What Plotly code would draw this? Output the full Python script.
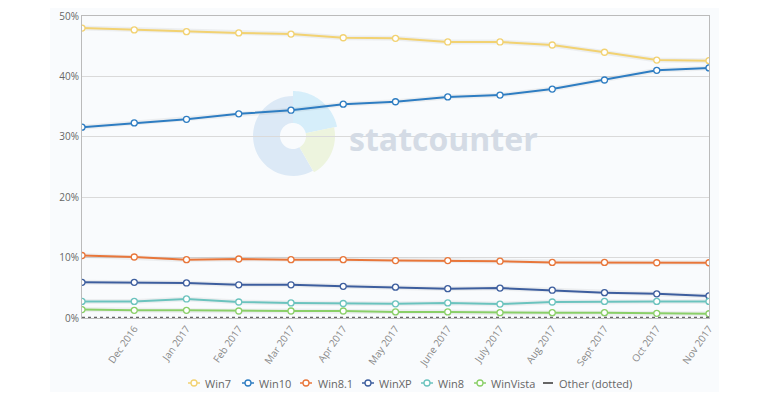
import plotly.graph_objects as go
import math

months = ["Nov 2016", "Dec 2016", "Jan 2017", "Feb 2017", "Mar 2017", "Apr 2017", "May 2017",
          "June 2017", "July 2017", "Aug 2017", "Sept 2017", "Oct 2017", "Nov 2017"]
tick_labels = months[1:]

win7 = [48.0, 47.7, 47.4, 47.2, 47.0, 46.4, 46.3, 45.7, 45.7, 45.2, 44.0, 42.7, 42.6]
win10 = [31.6, 32.3, 32.9, 33.8, 34.4, 35.4, 35.8, 36.6, 36.9, 37.9, 39.4, 41.0, 41.4]
win81 = [10.35, 10.1, 9.65, 9.77, 9.65, 9.65, 9.5, 9.5, 9.4, 9.2, 9.2, 9.15, 9.15]
winxp = [5.9, 5.9, 5.8, 5.5, 5.5, 5.25, 5.1, 4.85, 4.95, 4.6, 4.2, 4.0, 3.65]
win8 = [2.75, 2.75, 3.15, 2.65, 2.5, 2.4, 2.35, 2.5, 2.3, 2.65, 2.75, 2.75, 2.75]
winvista = [1.4, 1.27, 1.27, 1.16, 1.16, 1.16, 1.0, 1.0, 0.88, 0.88, 0.88, 0.77, 0.7]
other = [0.05, 0.05, 0.05, 0.05, 0.05, 0.05, 0.05, 0.05, 0.05, 0.05, 0.05, 0.05, 0.05]

series_names = ["Win7", "Win10", "Win8.1", "WinXP", "Win8", "WinVista"]
series_values = [win7, win10, win81, winxp, win8, winvista]
series_colors = ["#F2D272", "#2E7DC2", "#E8763A", "#3D5E9E", "#6BC3BE", "#8ACF68"]
other_name = "Other (dotted)"
other_color = "#666666"

fig = go.Figure()

# soft glow behind the lines
for vals in series_values:
    fig.add_trace(go.Scatter(x=months, y=vals, mode="lines", showlegend=False, hoverinfo="skip",
                             line=dict(color="rgba(0,0,0,0.05)", width=5)))

for name, vals, color in zip(series_names, series_values, series_colors):
    fig.add_trace(go.Scatter(
        x=months, y=vals, mode="lines+markers", name=name, showlegend=False,
        line=dict(color=color, width=2),
        marker=dict(symbol="circle", size=6, color="white", line=dict(color=color, width=1.3)),
    ))

fig.add_trace(go.Scatter(x=months, y=other, mode="lines", name=other_name, showlegend=False,
                         line=dict(color=other_color, width=2, dash="dot")))

# page has an 8px body margin; figure sized to fit the 770x400 window
PAGE_OFF = 8
FIG_W, FIG_H = 770 - 2 * PAGE_OFF, 400 - 2 * PAGE_OFF
# plot geometry in screen pixels
SL, SR, ST, SB = 82, 709, 16, 318
W, H = SR - SL, SB - ST

def px(x):
    return (x - SL) / W

def py(y):
    return (SB - y) / H

shapes = []
# light chart background
shapes.append(dict(type="rect", xref="paper", yref="paper", x0=px(50), x1=px(719), y0=py(400), y1=py(0),
                   fillcolor="#F9FBFD", line=dict(width=0), layer="below"))

# statcounter logo watermark
cx, cy = 293, 136

def sector(r_in, r_out, a0, a1, n=36):
    pts = []
    for i in range(n + 1):
        a = math.radians(a0 + (a1 - a0) * i / n)
        pts.append((cx + r_out * math.cos(a), cy - r_out * math.sin(a)))
    for i in range(n + 1):
        a = math.radians(a1 - (a1 - a0) * i / n)
        pts.append((cx + r_in * math.cos(a), cy - r_in * math.sin(a)))
    return "M " + " L ".join(f"{px(x):.5f},{py(y):.5f}" for x, y in pts) + " Z"

shapes.append(dict(type="path", xref="paper", yref="paper", path=sector(13, 40, 90, 300),
                   fillcolor="#DCE9F6", line=dict(width=0), layer="below"))
shapes.append(dict(type="path", xref="paper", yref="paper", path=sector(13, 45, 12, 90),
                   fillcolor="#D6EEFA", line=dict(width=0), layer="below"))
shapes.append(dict(type="path", xref="paper", yref="paper", path=sector(13, 42, -60, 12),
                   fillcolor="#EDF4DE", line=dict(width=0), layer="below"))

annotations = [dict(x=px(347), y=py(138), xref="paper", yref="paper", xanchor="left", yanchor="middle",
                    text="<b>statcounter</b>", showarrow=False,
                    font=dict(family="Open Sans", size=32, color="#D4DBE5"))]

# custom legend (symbol start x, text start x in screen pixels)
legend_y = 383
sym_x = [188, 242, 300, 362, 421, 474]
txt_x = [203, 257, 316, 377, 436, 489]
for name, color, sx, tx in zip(series_names, series_colors, sym_x, txt_x):
    shapes.append(dict(type="line", xref="paper", yref="paper", x0=px(sx), x1=px(sx + 12),
                       y0=py(legend_y), y1=py(legend_y), line=dict(color=color, width=1.5)))
    shapes.append(dict(type="circle", xref="paper", yref="paper", x0=px(sx + 3), x1=px(sx + 9),
                       y0=py(legend_y + 3), y1=py(legend_y - 3), fillcolor="white",
                       line=dict(color=color, width=1.3)))
    annotations.append(dict(x=px(tx), y=py(legend_y), xref="paper", yref="paper", xanchor="left",
                            yanchor="middle", text=name, showarrow=False,
                            font=dict(family="Open Sans", size=11, color="#666666")))
shapes.append(dict(type="line", xref="paper", yref="paper", x0=px(543), x1=px(553),
                   y0=py(legend_y), y1=py(legend_y), line=dict(color=other_color, width=2)))
annotations.append(dict(x=px(557), y=py(legend_y), xref="paper", yref="paper", xanchor="left",
                        yanchor="middle", text=other_name, showarrow=False,
                        font=dict(family="Open Sans", size=11, color="#666666")))

fig.update_layout(
    width=FIG_W, height=FIG_H,
    margin=dict(l=SL - PAGE_OFF, r=FIG_W - (SR - PAGE_OFF), t=ST - PAGE_OFF, b=FIG_H - (SB - PAGE_OFF),
                autoexpand=False),
    paper_bgcolor="white", plot_bgcolor="rgba(0,0,0,0)",
    shapes=shapes, annotations=annotations,
    font=dict(family="Open Sans", color="#666666"),
    showlegend=False,
)

fig.update_xaxes(
    type="category", range=[0, len(months) - 1],
    tickvals=tick_labels, ticktext=tick_labels, tickangle=-55,
    tickfont=dict(size=10, color="#8A8A8A"),
    showgrid=False, showline=True, linecolor="#BBBBBB", mirror=True,
    ticks="", zeroline=False, automargin=False,
)
fig.update_yaxes(
    range=[0, 50], tickvals=[0, 10, 20, 30, 40, 50], ticktext=["0%", "10%", "20%", "30%", "40%", "50%"],
    tickfont=dict(size=10, color="#666666"),
    showgrid=True, gridcolor="#DADADA", gridwidth=1,
    showline=True, linecolor="#BBBBBB", mirror=True, zeroline=False, ticks="", automargin=False,
)

fig.write_html("out.html")
